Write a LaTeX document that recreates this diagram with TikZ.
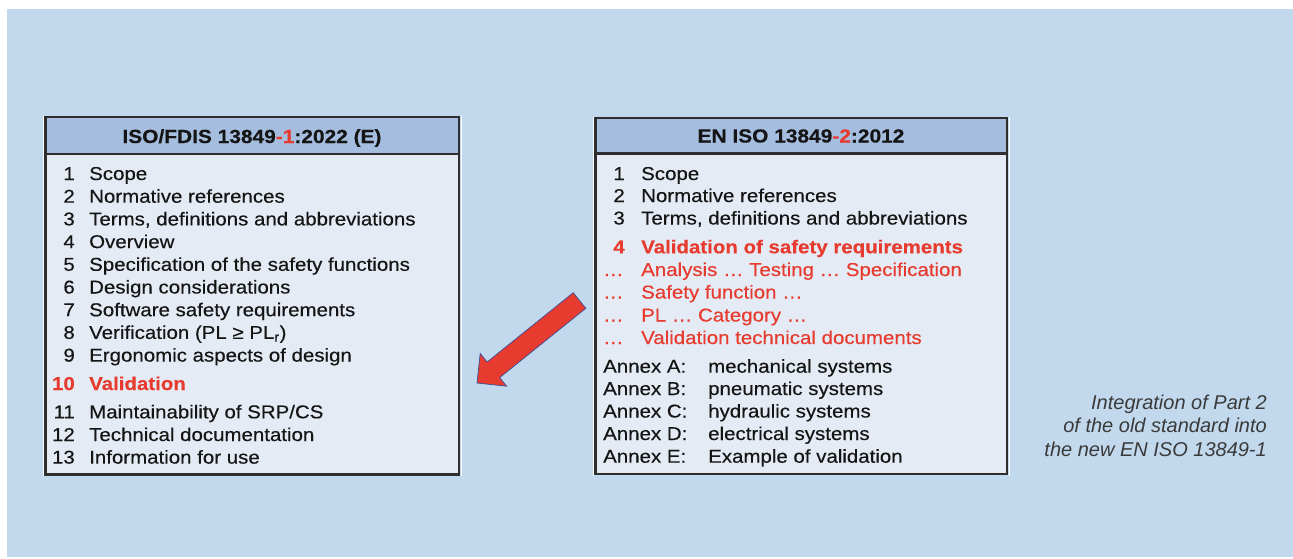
\documentclass[tikz,border=0pt]{standalone}
\usepackage{fontspec}
\setmainfont[FakeStretch=1.1,FakeBold=0.35]{Liberation Sans}
\newfontfamily\capfont{Liberation Sans}
\definecolor{bg}{HTML}{C2D9ED}
\definecolor{hdr}{HTML}{A5BEE0}
\definecolor{body}{HTML}{E5EBF4}
\definecolor{frame}{HTML}{2E2E2E}
\definecolor{redt}{HTML}{E63B2E}
\definecolor{txt}{HTML}{151515}
\definecolor{captxt}{HTML}{3A3A3A}
\definecolor{arrowedge}{HTML}{3A4E9A}
\tikzset{
  boxframe/.style={draw=frame, line width=2.4pt},
  hdrtext/.style={anchor=base, inner sep=0pt, text=txt, font=\fontsize{19}{22}\selectfont\bfseries},
  itemtxt/.style={anchor=base west, inner sep=0pt, text=txt, font=\fontsize{18.6}{22}\selectfont},
  itemnum/.style={anchor=base east, inner sep=0pt, text=txt, font=\fontsize{18.6}{22}\selectfont},
  hot/.style={text=redt, font=\fontsize{18.6}{22}\selectfont\bfseries},
  warm/.style={text=redt},
  captext/.style={anchor=base east, inner sep=0pt, text=captxt, font=\fontsize{20}{24}\capfont\itshape},
}
\begin{document}
\begin{tikzpicture}[x=1pt,y=-1pt]
\useasboundingbox (0,0) rectangle (1293,558);
\fill[bg] (7,9) rectangle (1293,557);

% ---------- left box ----------
\fill[body] (45.5,117) rectangle (459,474.5);
\fill[hdr] (45.5,117) rectangle (459,154);
\draw[white, line width=1pt] (43,116) -- (43,476);
\draw[white, line width=1pt] (461.3,116) -- (461.3,476);
\draw[boxframe] (45.5,117) rectangle (459,474.5);
\draw[boxframe] (45.5,154) -- (459,154);
\node[hdrtext] (lh) at (252,143) {ISO/FDIS 13849\textcolor{redt}{-1}:2022 (E)};

\node[itemnum] (ln1) at (75,180) {1};     \node[itemtxt] (lt1) at (89,180) {Scope};
\node[itemnum] (ln2) at (75,202.7) {2};   \node[itemtxt] (lt2) at (89,202.7) {Normative references};
\node[itemnum] (ln3) at (75,225.4) {3};   \node[itemtxt] (lt3) at (89,225.4) {Terms, definitions and abbreviations};
\node[itemnum] (ln4) at (75,248.1) {4};   \node[itemtxt] (lt4) at (89,248.1) {Overview};
\node[itemnum] (ln5) at (75,270.8) {5};   \node[itemtxt] (lt5) at (89,270.8) {Specification of the safety functions};
\node[itemnum] (ln6) at (75,293.5) {6};   \node[itemtxt] (lt6) at (89,293.5) {Design considerations};
\node[itemnum] (ln7) at (75,316.2) {7};   \node[itemtxt] (lt7) at (89,316.2) {Software safety requirements};
\node[itemnum] (ln8) at (75,338.9) {8};   \node[itemtxt] (lt8) at (89,338.9) {Verification (PL ≥ PL\textsubscript{r})};
\node[itemnum] (ln9) at (75,361.6) {9};   \node[itemtxt] (lt9) at (89,361.6) {Ergonomic aspects of design};
\node[itemnum,hot] (ln10) at (75,390) {10}; \node[itemtxt,hot] (lt10) at (89,390) {Validation};
\node[itemnum] (ln11) at (75,418.3) {11}; \node[itemtxt] (lt11) at (89,418.3) {Maintainability of SRP/CS};
\node[itemnum] (ln12) at (75,441) {12};   \node[itemtxt] (lt12) at (89,441) {Technical documentation};
\node[itemnum] (ln13) at (75,463.6) {13}; \node[itemtxt] (lt13) at (89,463.6) {Information for use};

% ---------- right box ----------
\fill[body] (595.5,118) rectangle (1007,474);
\fill[hdr] (595.5,118) rectangle (1007,153.5);
\draw[white, line width=1pt] (593,117) -- (593,475.5);
\draw[white, line width=1pt] (1009.3,117) -- (1009.3,475.5);
\draw[boxframe] (595.5,118) rectangle (1007,474);
\draw[boxframe] (595.5,153.5) -- (1007,153.5);
\node[hdrtext] (rh) at (801,142.5) {EN ISO 13849\textcolor{redt}{-2}:2012};

\node[itemnum] (rn1) at (625,180) {1};   \node[itemtxt] (rt1) at (641,180) {Scope};
\node[itemnum] (rn2) at (625,202) {2};   \node[itemtxt] (rt2) at (641,202) {Normative references};
\node[itemnum] (rn3) at (625,224.5) {3}; \node[itemtxt] (rt3) at (641,224.5) {Terms, definitions and abbreviations};
\node[itemnum,hot] (rn4) at (625,253.3) {4}; \node[itemtxt,hot] (rt4) at (641,253.3) {Validation of safety requirements};
\node[itemtxt,warm] (rd5) at (603,276) {…};   \node[itemtxt,warm] (rt5) at (641,276) {Analysis … Testing … Specification};
\node[itemtxt,warm] (rd6) at (603,298.5) {…}; \node[itemtxt,warm] (rt6) at (641,298.5) {Safety function …};
\node[itemtxt,warm] (rd7) at (603,321.5) {…}; \node[itemtxt,warm] (rt7) at (641,321.5) {PL … Category …};
\node[itemtxt,warm] (rd8) at (603,344) {…};   \node[itemtxt,warm] (rt8) at (641,344) {Validation technical documents};
\node[itemtxt] (ra) at (603,372.7) {Annex A:}; \node[itemtxt] (rat) at (708,372.7) {mechanical systems};
\node[itemtxt] (rb) at (603,395) {Annex B:};   \node[itemtxt] (rbt) at (708,395) {pneumatic systems};
\node[itemtxt] (rc) at (603,417.5) {Annex C:}; \node[itemtxt] (rct) at (708,417.5) {hydraulic systems};
\node[itemtxt] (rd) at (603,440) {Annex D:};   \node[itemtxt] (rdt) at (708,440) {electrical systems};
\node[itemtxt] (re) at (603,462.7) {Annex E:}; \node[itemtxt] (ret) at (708,462.7) {Example of validation};

% ---------- block arrow ----------
\filldraw[fill=redt, draw=arrowedge, line width=0.7pt, line join=miter]
  (573.2,292.7) -- (585.8,308.3) -- (499.7,377.6) -- (506.6,386.2)
  -- (477,383) -- (480.2,353.4) -- (487.1,362.0) -- cycle;

% ---------- caption ----------
\node[captext] (c1) at (1267,409.3) {Integration of Part 2};
\node[captext] (c2) at (1267,432.8) {of the old standard into};
\node[captext] (c3) at (1267,456.5) {the new EN ISO 13849-1};
\end{tikzpicture}
\end{document}
